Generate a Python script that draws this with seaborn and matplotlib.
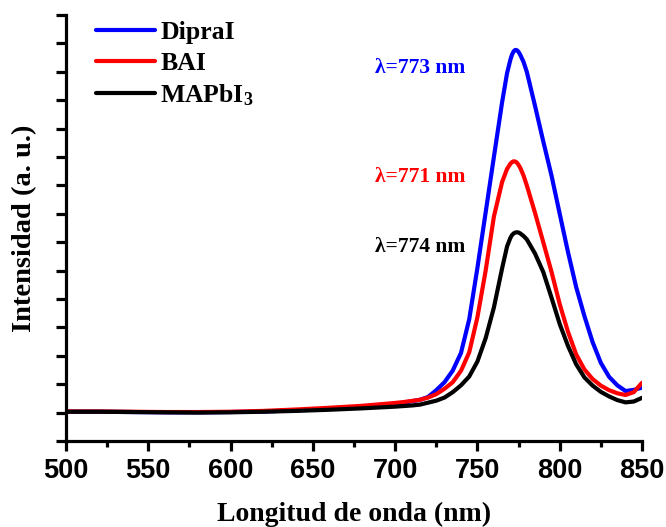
import numpy as np
import pandas as pd
import matplotlib
matplotlib.use("Agg")
import matplotlib.pyplot as plt
import seaborn as sns

# ---------------- data ----------------
wavelength = [500, 520, 540, 560, 580, 600, 620, 640, 660, 680, 690, 700, 705, 710,
              715, 720, 725, 730, 735, 740, 745, 750, 755, 760, 765, 768, 770, 771,
              772, 773, 774, 775, 776, 778, 780, 785, 790, 795, 800, 805, 810, 815,
              820, 825, 830, 835, 840, 845, 850]

dipral = [0.03, 0.03, 0.02, 0.01, 0.01, 0.02, 0.04, 0.08, 0.13, 0.20, 0.25, 0.31, 0.35, 0.40,
          0.45, 0.55, 0.79, 1.07, 1.48, 2.10, 3.28, 5.10, 7.05, 9.00, 10.93, 11.95, 12.42, 12.60,
          12.72, 12.77, 12.76, 12.70, 12.60, 12.35, 12.00, 10.80, 9.55, 8.35, 7.00, 5.66, 4.42, 3.40,
          2.48, 1.75, 1.26, 0.96, 0.76, 0.80, 0.88]

bai = [0.04, 0.04, 0.03, 0.02, 0.02, 0.03, 0.06, 0.11, 0.17, 0.24, 0.29, 0.34, 0.37, 0.41,
       0.45, 0.53, 0.65, 0.84, 1.07, 1.47, 2.12, 3.36, 5.00, 6.90, 8.12, 8.58, 8.76, 8.82,
       8.85, 8.84, 8.80, 8.72, 8.62, 8.35, 8.00, 7.03, 6.00, 4.96, 3.82, 2.85, 2.05, 1.52,
       1.18, 0.95, 0.79, 0.68, 0.62, 0.72, 1.05]

mapbi3 = [0.03, 0.03, 0.02, 0.01, 0.00, 0.01, 0.03, 0.06, 0.10, 0.15, 0.18, 0.21, 0.23, 0.25,
          0.28, 0.35, 0.42, 0.53, 0.72, 0.96, 1.27, 1.80, 2.62, 3.70, 5.08, 5.85, 6.15, 6.25,
          6.31, 6.34, 6.35, 6.34, 6.31, 6.22, 6.10, 5.60, 4.95, 4.05, 3.12, 2.35, 1.70, 1.24,
          0.95, 0.73, 0.57, 0.44, 0.36, 0.39, 0.52]

series_names = ["DipraI", "BAI", "MAPbI$_3$"]
series_colors = ["#0000FF", "#FF0000", "#000000"]
peak_labels = ["λ=773 nm", "λ=771 nm", "λ=774 nm"]
peak_label_x = [688, 688, 688]
peak_label_y = [12.12, 8.3, 5.83]
x_major_ticks = [500, 550, 600, 650, 700, 750, 800, 850]
x_minor_ticks = [525, 575, 625, 675, 725, 775, 825]
y_ticks = list(range(-1, 15))

# ---------------- style ----------------
sns.set_style("ticks")
plt.rcParams["font.family"] = ["Liberation Serif", "DejaVu Serif"]
plt.rcParams["font.weight"] = "bold"
plt.rcParams["text.color"] = "black"
plt.rcParams["axes.labelcolor"] = "black"
plt.rcParams["xtick.color"] = "black"
plt.rcParams["ytick.color"] = "black"
plt.rcParams["mathtext.fontset"] = "custom"
plt.rcParams["mathtext.rm"] = "Liberation Serif:bold"
plt.rcParams["mathtext.it"] = "Liberation Serif:bold"
plt.rcParams["mathtext.bf"] = "Liberation Serif:bold"

df = pd.DataFrame({
    "wl": wavelength * 3,
    "I": dipral + bai + mapbi3,
    "sample": [series_names[0]] * len(wavelength)
              + [series_names[1]] * len(wavelength)
              + [series_names[2]] * len(wavelength),
})

fig = plt.figure(figsize=(6.66, 5.27), dpi=100)
ax = fig.add_axes([66 / 666, 86 / 527, 576 / 666, 426 / 527])

sns.lineplot(data=df, x="wl", y="I", hue="sample", hue_order=series_names,
             palette=series_colors, linewidth=3.0, estimator=None, sort=False,
             legend=False, ax=ax)

ax.set_xlim(500, 850)
ax.set_ylim(-1, 14)

for side in ["top", "right"]:
    ax.spines[side].set_visible(False)
for side in ["left", "bottom"]:
    ax.spines[side].set_linewidth(2.3)
    ax.spines[side].set_color("black")

ax.set_xticks(x_major_ticks)
ax.set_xticks(x_minor_ticks, minor=True)
ax.set_xticklabels([str(t) for t in x_major_ticks],
                   fontfamily=["Liberation Sans Narrow", "Liberation Sans"],
                   fontweight="bold", fontsize=19.5, color="black")
ax.set_yticks(y_ticks)
ax.set_yticklabels([])
ax.tick_params(axis="x", which="major", direction="out", length=7, width=2.3, pad=5, colors="black")
ax.tick_params(axis="x", which="minor", direction="out", length=4, width=2.3, colors="black")
ax.tick_params(axis="y", which="major", direction="out", length=7, width=2.3, colors="black")

ax.set_xlabel("Longitud de onda (nm)", fontsize=20, fontweight="bold", labelpad=13, color="black")
ax.set_ylabel("Intensidad (a. u.)", fontsize=20.5, fontweight="bold", labelpad=10, color="black")

ax.legend(ax.get_lines()[:3], series_names, loc="upper left",
          bbox_to_anchor=(0.052, 0.986), frameon=False, fontsize=18.5,
          handlelength=2.3, handletextpad=0.2, labelspacing=0.3,
          borderaxespad=0, borderpad=0)

for lbl, xx, yy, c in zip(peak_labels, peak_label_x, peak_label_y, series_colors):
    ax.text(xx, yy, lbl, color=c, fontsize=15.5, fontweight="bold",
            va="center", ha="left")

ax.grid(False)
fig.savefig("out.png", dpi=100)
